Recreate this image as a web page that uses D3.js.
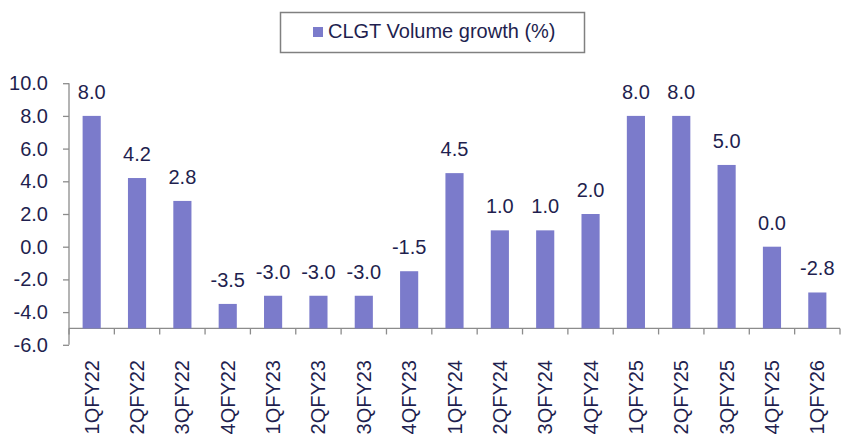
<!DOCTYPE html>
<html>
<head>
<meta charset="utf-8">
<script src="https://cdn.jsdelivr.net/npm/d3@7"></script>
<style>
  body { margin: 0; background: #fff; }
  text { font-family: "Liberation Sans", Arial, sans-serif; fill: #1f1f4f; }
</style>
</head>
<body>
<div id="chart"></div>
<script>
//____DATA____//
const quarters = ['1QFY22', '2QFY22', '3QFY22', '4QFY22', '1QFY23', '2QFY23', '3QFY23', '4QFY23',
    '1QFY24', '2QFY24', '3QFY24', '4QFY24', '1QFY25', '2QFY25', '3QFY25', '4QFY25', '1QFY26']
const volumeGrowth = [8.0, 4.2, 2.8, -3.5, -3.0, -3.0, -3.0, -1.5, 4.5, 1.0, 1.0, 2.0, 8.0, 8.0, 5.0, 0.0, -2.8]
const yTicks = [10, 8, 6, 4, 2, 0, -2, -4, -6]
const seriesName = 'CLGT Volume growth (%)'
const baseValue = -5

const W = 842, H = 436
const BAR = '#7b7bcb', AXIS = '#8c8c8c'

// hyphen instead of unicode minus, like the original
const fmt = d3.formatLocale({decimal: '.', thousands: ',', grouping: [3], currency: ['', ''], minus: '-'}).format('.1f')

const svg = d3.select('#chart').append('svg')
    .attr('width', W)
    .attr('height', H)

const y = d3.scaleLinear()
    .domain([-6, 10])
    .range([344.8, 83.2])

const x = d3.scaleBand()
    .domain(quarters)
    .range([69, 840])
    .paddingInner(0.6)
    .paddingOuter(0.3)

const step = x.step()

//____Y AXIS____//
const yAxis = svg.append('g')
    .attr('transform', 'translate(69,0)')
    .call(d3.axisLeft(y).tickValues(yTicks).tickFormat(fmt).tickSize(6).tickPadding(15))

yAxis.select('.domain').attr('stroke', AXIS).attr('stroke-width', 1.3).attr('d', `M0,${y(10)}V${y(-6)}`)
yAxis.selectAll('.tick line').attr('stroke', AXIS).attr('stroke-width', 1.3)
yAxis.selectAll('.tick text')
    .style('font-size', '20px')
    .attr('fill', '#1f1f4f')
    .attr('font-family', '"Liberation Sans", Arial, sans-serif')

//____CATEGORY AXIS at base value____//
const baseY = y(baseValue)
const catAxis = svg.append('g')

catAxis.append('line')
    .attr('x1', 69).attr('x2', 840)
    .attr('y1', baseY).attr('y2', baseY)
    .attr('stroke', AXIS).attr('stroke-width', 1.3)

catAxis.selectAll('line.ctick')
    .data(d3.range(quarters.length + 1))
    .join('line')
    .attr('class', 'ctick')
    .attr('x1', i => 69 + i * step).attr('x2', i => 69 + i * step)
    .attr('y1', baseY).attr('y2', baseY + 6)
    .attr('stroke', AXIS).attr('stroke-width', 1.3)

catAxis.selectAll('text')
    .data(quarters)
    .join('text')
    .attr('transform', d => `translate(${x(d) + x.bandwidth() / 2},360) rotate(-90)`)
    .attr('text-anchor', 'end')
    .attr('dy', '0.35em')
    .style('font-size', '20px')
    .text(d => d)

//____BARS____//
svg.append('g').selectAll('rect')
    .data(quarters)
    .join('rect')
    .attr('x', d => x(d))
    .attr('width', x.bandwidth())
    .attr('y', (d, i) => Math.min(y(volumeGrowth[i]), baseY))
    .attr('height', (d, i) => Math.abs(baseY - y(volumeGrowth[i])))
    .attr('fill', BAR)

svg.append('g').selectAll('text')
    .data(quarters)
    .join('text')
    .attr('x', d => x(d) + x.bandwidth() / 2)
    .attr('y', (d, i) => y(volumeGrowth[i]) - 17)
    .attr('text-anchor', 'middle')
    .style('font-size', '20px')
    .text((d, i) => fmt(volumeGrowth[i]))

//____LEGEND____//
const legend = svg.append('g')
legend.append('rect')
    .attr('x', 280.5).attr('y', 12.5)
    .attr('width', 304).attr('height', 40)
    .attr('fill', '#fff')
    .attr('stroke', '#808080')
    .attr('stroke-width', 1.5)
legend.append('rect')
    .attr('x', 313).attr('y', 27)
    .attr('width', 10).attr('height', 10)
    .attr('fill', BAR)
legend.append('text')
    .attr('x', 328).attr('y', 38)
    .style('font-size', '20px')
    .text(seriesName)
</script>
</body>
</html>
